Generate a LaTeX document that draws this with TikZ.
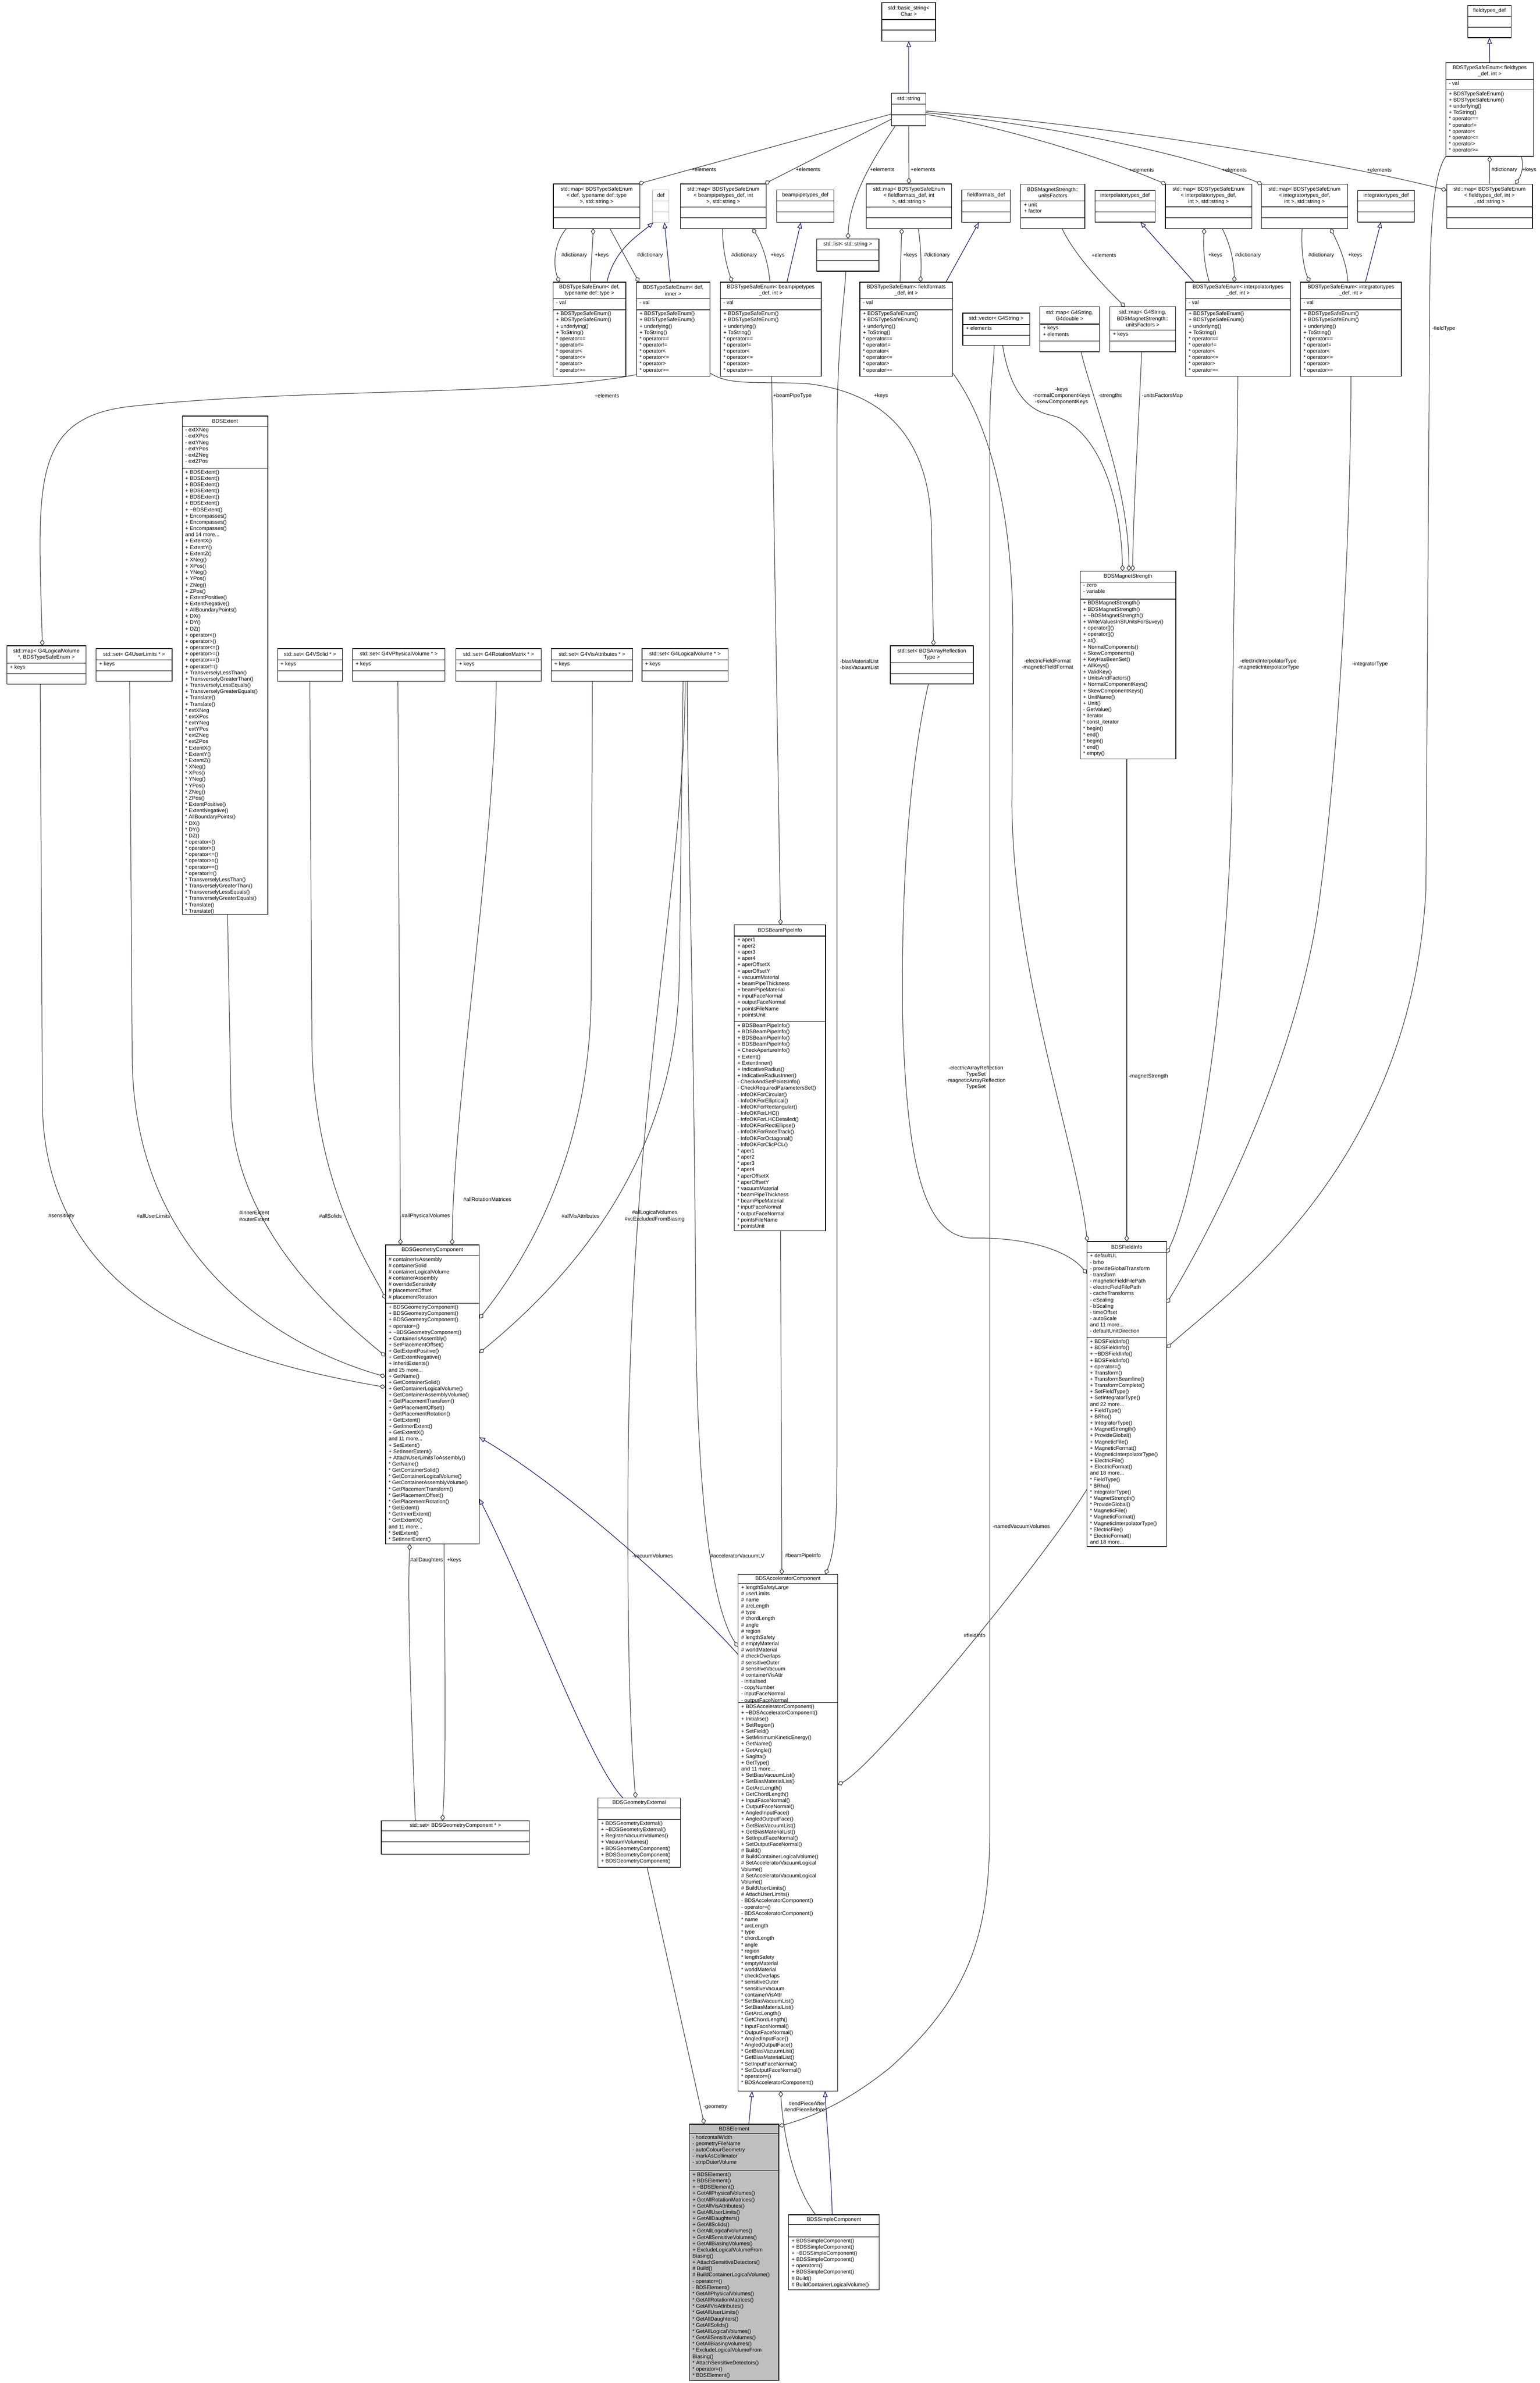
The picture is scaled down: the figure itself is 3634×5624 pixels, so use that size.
\documentclass[tikz,border=0pt]{standalone}
\usepackage{fontspec}
\setmainfont{Liberation Sans}
\usetikzlibrary{arrows.meta,calc}
\definecolor{assocc}{HTML}{404040}
\definecolor{inhc}{HTML}{191970}
\definecolor{elemfill}{HTML}{BFBFBF}
\definecolor{defgray}{HTML}{BFBFBF}
\newcommand{\clsfont}{\fontsize{12.5}{14.8}\selectfont}
\makeatletter
\def\cls@parse#1,#2,#3,#4,#5,#6\@nil{\def\clsxa{#1}\def\clsya{#2}\def\clsxb{#3}\def\clsyb{#4}\def\clsyh{#5}\def\clsyc{#6}}
\newcommand{\umlcls}[6][]{%
  \cls@parse#3\@nil
  \pgfmathsetmacro\clscw{\clsxb-\clsxa}%
  \pgfmathsetmacro\clsch{\clsyb-\clsya}%
  \pgfmathsetmacro\clscx{(\clsxa+\clsxb)/2}%
  \pgfmathsetmacro\clscy{(\clsya+\clsyb)/2}%
  \pgfmathsetmacro\clsty{(\clsya+\clsyh)/2}%
  \pgfmathsetmacro\clstx{\clsxa+7}%
  \pgfmathsetmacro\clsay{\clsyh+4}%
  \pgfmathsetmacro\clsmy{\clsyc+4}%
  \node[clsbox,minimum width=\clscw pt,minimum height=\clsch pt,#1] (#2) at (\clscx,\clscy) {};
  \draw[clsline,#1] (\clsxa,\clsyh) -- (\clsxb,\clsyh);
  \draw[clsline,#1] (\clsxa,\clsyc) -- (\clsxb,\clsyc);
  \node[clstitle] (#2-title) at (\clscx,\clsty) {#4};
  \node[clstext,anchor=north west] (#2-attr) at (\clstx,\clsay) {#5};
  \node[clstext,anchor=north west] (#2-ops) at (\clstx,\clsmy) {#6};
}
\makeatother
\newcommand{\tseops}{+ BDSTypeSafeEnum()\\+ BDSTypeSafeEnum()\\+ underlying()\\+ ToString()\\{}* operator==\\{}* operator!=\\{}* operator<\\{}* operator<=\\{}* operator>\\{}* operator>=}
\tikzset{
  clsbox/.style={draw=black,line width=1.5pt,inner sep=0pt,outer sep=0pt,fill=white},
  clsline/.style={draw=black,line width=1.5pt},
  clstitle/.style={font=\clsfont,align=center,inner sep=0pt},
  clstext/.style={font=\clsfont,align=left,inner sep=0pt},
  assoc/.style={draw=assocc,line width=1.4pt,{Diamond[open,length=15pt,width=11pt,line width=1.4pt]}-},
  inh/.style={draw=inhc,line width=1.4pt,-{Triangle[open,length=14pt,width=11pt,line width=1.4pt]}},
  lbl/.style={font=\clsfont,align=center,inner sep=0pt}
}
\begin{document}
\begin{tikzpicture}[x=1pt,y=-1pt]
\fill[white] (0,0) rectangle (3634,5624);
\useasboundingbox (0,0) rectangle (3634,5624);
% ---------- classes ----------
\umlcls{bstr}{2081,6,2208,97,46,71}{std::basic\_string<\\Char >}{}{}
\umlcls{str}{2104,220,2185,297,246,271}{std::string}{}{}
\umlcls{mapdef}{1306,434,1510,539,489,514}{std::map< BDSTypeSafeEnum\\< def, typename def::type\\ >, std::string >}{}{}
\umlcls[draw=defgray]{def}{1540,448,1579,525,474,500}{def}{}{}
\umlcls{mapbp}{1606,434,1808,539,489,514}{std::map< BDSTypeSafeEnum\\< beampipetypes\_def, int\\ >, std::string >}{}{}
\umlcls{bpdef}{1833,448,1968,525,474,500}{beampipetypes\_def}{}{}
\umlcls{lst}{1927,564,2074,640,590,615}{std::list< std::string >}{}{}
\umlcls{mapff}{2044,434,2246,539,489,514}{std::map< BDSTypeSafeEnum\\< fieldformats\_def, int\\ >, std::string >}{}{}
\umlcls{ffdef}{2270,448,2384,525,474,500}{fieldformats\_def}{}{}
\umlcls{uf}{2409,435,2560,539,474,514}{BDSMagnetStrength::\\unitsFactors}{+ unit\\+ factor}{}
\umlcls{ipdef}{2584,449,2726,524,474,500}{interpolatortypes\_def}{}{}
\umlcls{mapip}{2750,435,2954,539,488,514}{std::map< BDSTypeSafeEnum\\< interpolatortypes\_def,\\ int >, std::string >}{}{}
\umlcls{mapig}{2977,435,3180,539,488,514}{std::map< BDSTypeSafeEnum\\< integratortypes\_def,\\ int >, std::string >}{}{}
\umlcls{igdef}{3204,449,3338,524,474,500}{integratortypes\_def}{}{}
\umlcls{mapft}{3414,435,3616,539,488,514}{std::map< BDSTypeSafeEnum\\< fieldtypes\_def, int >\\, std::string >}{}{}
\umlcls{ftdef}{3464,13,3566,89,39,64}{fieldtypes\_def}{}{}
\umlcls{teft}{3412,148,3619,369,187,212}{BDSTypeSafeEnum< fieldtypes\\\_def, int >}{- val}{\tseops}
\umlcls{tedt}{1305,666,1477,888,705,731}{BDSTypeSafeEnum< def,\\typename def::type >}{- val}{\tseops}
\umlcls{tedi}{1502,666,1675,888,705,731}{BDSTypeSafeEnum< def,\\inner >}{- val}{\tseops}
\umlcls{tebp}{1700,666,1938,888,705,731}{BDSTypeSafeEnum< beampipetypes\\\_def, int >}{- val}{\tseops}
\umlcls{teff}{2029,666,2248,888,705,731}{BDSTypeSafeEnum< fieldformats\\\_def, int >}{- val}{\tseops}
\umlcls{vec}{2272,739,2430,815,766,791}{std::vector< G4String >}{+ elements}{}
\umlcls{mapgd}{2454,724,2594,830,765,805}{std::map< G4String,\\G4double >}{+ keys\\+ elements}{}
\umlcls{mapguf}{2619,724,2774,830,779,805}{std::map< G4String,\\BDSMagnetStrength::\\unitsFactors >}{+ keys}{}
\umlcls{teip}{2798,666,3045,888,705,731}{BDSTypeSafeEnum< interpolatortypes\\\_def, int >}{- val}{\tseops}
\umlcls{teig}{3069,666,3307,888,705,731}{BDSTypeSafeEnum< integratortypes\\\_def, int >}{- val}{\tseops}
\umlcls{maplv}{16,1524,203,1615,1565,1590}{std::map< G4LogicalVolume\\ *, BDSTypeSafeEnum >}{+ keys}{}
\umlcls{setul}{227,1531,406,1608,1557,1583}{std::set< G4UserLimits * >}{+ keys}{}
\umlcls{ext}{430,982,632,2158,1006,1105}{BDSExtent}{- extXNeg\\- extXPos\\- extYNeg\\- extYPos\\- extZNeg\\- extZPos}{+ BDSExtent()\\+ BDSExtent()\\+ BDSExtent()\\+ BDSExtent()\\+ BDSExtent()\\+ BDSExtent()\\+ \textasciitilde BDSExtent()\\+ Encompasses()\\+ Encompasses()\\+ Encompasses()\\and 14 more...\\+ ExtentX()\\+ ExtentY()\\+ ExtentZ()\\+ XNeg()\\+ XPos()\\+ YNeg()\\+ YPos()\\+ ZNeg()\\+ ZPos()\\+ ExtentPositive()\\+ ExtentNegative()\\+ AllBoundaryPoints()\\+ DX()\\+ DY()\\+ DZ()\\+ operator<()\\+ operator>()\\+ operator<=()\\+ operator>=()\\+ operator==()\\+ operator!=()\\+ TransverselyLessThan()\\+ TransverselyGreaterThan()\\+ TransverselyLessEquals()\\+ TransverselyGreaterEquals()\\+ Translate()\\+ Translate()\\{}* extXNeg\\{}* extXPos\\{}* extYNeg\\{}* extYPos\\{}* extZNeg\\{}* extZPos\\{}* ExtentX()\\{}* ExtentY()\\{}* ExtentZ()\\{}* XNeg()\\{}* XPos()\\{}* YNeg()\\{}* YPos()\\{}* ZNeg()\\{}* ZPos()\\{}* ExtentPositive()\\{}* ExtentNegative()\\{}* AllBoundaryPoints()\\{}* DX()\\{}* DY()\\{}* DZ()\\{}* operator<()\\{}* operator>()\\{}* operator<=()\\{}* operator>=()\\{}* operator==()\\{}* operator!=()\\{}* TransverselyLessThan()\\{}* TransverselyGreaterThan()\\{}* TransverselyLessEquals()\\{}* TransverselyGreaterEquals()\\{}* Translate()\\{}* Translate()}
\umlcls{setso}{655,1531,808,1608,1557,1583}{std::set< G4VSolid * >}{+ keys}{}
\umlcls{setpv}{832,1531,1050,1608,1557,1583}{std::set< G4VPhysicalVolume * >}{+ keys}{}
\umlcls{setrm}{1076,1531,1277,1608,1557,1583}{std::set< G4RotationMatrix * >}{+ keys}{}
\umlcls{setva}{1301,1531,1493,1608,1557,1583}{std::set< G4VisAttributes * >}{+ keys}{}
\umlcls{setlv}{1515,1531,1718,1608,1557,1583}{std::set< G4LogicalVolume * >}{+ keys}{}
\umlcls{setar}{2101,1524,2297,1614,1564,1590}{std::set< BDSArrayReflection\\Type >}{}{}
\umlcls{ms}{2549,1348,2775,1791,1374,1414}{BDSMagnetStrength}{- zero\\- variable}{+ BDSMagnetStrength()\\+ BDSMagnetStrength()\\+ \textasciitilde BDSMagnetStrength()\\+ WriteValuesInSIUnitsForSuvey()\\+ operator[]()\\+ operator[]()\\+ at()\\+ NormalComponents()\\+ SkewComponents()\\+ KeyHasBeenSet()\\+ AllKeys()\\+ ValidKey()\\+ UnitsAndFactors()\\+ NormalComponentKeys()\\+ SkewComponentKeys()\\+ UnitName()\\+ Unit()\\- GetValue()\\{}* iterator\\{}* const\_iterator\\{}* begin()\\{}* end()\\{}* begin()\\{}* end()\\{}* empty()}
\umlcls{bpi}{1733,2183,1948,2905,2209,2411}{BDSBeamPipeInfo}{+ aper1\\+ aper2\\+ aper3\\+ aper4\\+ aperOffsetX\\+ aperOffsetY\\+ vacuumMaterial\\+ beamPipeThickness\\+ beamPipeMaterial\\+ inputFaceNormal\\+ outputFaceNormal\\+ pointsFileName\\+ pointsUnit}{+ BDSBeamPipeInfo()\\+ BDSBeamPipeInfo()\\+ BDSBeamPipeInfo()\\+ BDSBeamPipeInfo()\\+ CheckApertureInfo()\\+ Extent()\\+ ExtentInner()\\+ IndicativeRadius()\\+ IndicativeRadiusInner()\\- CheckAndSetPointsInfo()\\- CheckRequiredParametersSet()\\- InfoOKForCircular()\\- InfoOKForElliptical()\\- InfoOKForRectangular()\\- InfoOKForLHC()\\- InfoOKForLHCDetailed()\\- InfoOKForRectEllipse()\\- InfoOKForRaceTrack()\\- InfoOKForOctagonal()\\- InfoOKForClicPCL()\\{}* aper1\\{}* aper2\\{}* aper3\\{}* aper4\\{}* aperOffsetX\\{}* aperOffsetY\\{}* vacuumMaterial\\{}* beamPipeThickness\\{}* beamPipeMaterial\\{}* inputFaceNormal\\{}* outputFaceNormal\\{}* pointsFileName\\{}* pointsUnit}
\umlcls{fi}{2565,2930,2753,3650,2955,3157}{BDSFieldInfo}{+ defaultUL\\- brho\\- provideGlobalTransform\\- transform\\- magneticFieldFilePath\\- electricFieldFilePath\\- cacheTransforms\\- eScaling\\- bScaling\\- timeOffset\\- autoScale\\and 11 more...\\- defaultUnitDirection}{+ BDSFieldInfo()\\+ BDSFieldInfo()\\+ \textasciitilde BDSFieldInfo()\\+ BDSFieldInfo()\\+ operator=()\\+ Transform()\\+ TransformBeamline()\\+ TransformComplete()\\+ SetFieldType()\\+ SetIntegratorType()\\and 22 more...\\+ FieldType()\\+ BRho()\\+ IntegratorType()\\+ MagnetStrength()\\+ ProvideGlobal()\\+ MagneticFile()\\+ MagneticFormat()\\+ MagneticInterpolatorType()\\+ ElectricFile()\\+ ElectricFormat()\\and 18 more...\\{}* FieldType()\\{}* BRho()\\{}* IntegratorType()\\{}* MagnetStrength()\\{}* ProvideGlobal()\\{}* MagneticFile()\\{}* MagneticFormat()\\{}* MagneticInterpolatorType()\\{}* ElectricFile()\\{}* ElectricFormat()\\and 18 more...}
\umlcls{gc}{910,2938,1131,3644,2963,3076}{BDSGeometryComponent}{\# containerIsAssembly\\\# containerSolid\\\# containerLogicalVolume\\\# containerAssembly\\\# overrideSensitivity\\\# placementOffset\\\# placementRotation}{+ BDSGeometryComponent()\\+ BDSGeometryComponent()\\+ BDSGeometryComponent()\\+ operator=()\\+ \textasciitilde BDSGeometryComponent()\\+ ContainerIsAssembly()\\+ SetPlacementOffset()\\+ GetExtentPositive()\\+ GetExtentNegative()\\+ InheritExtents()\\and 25 more...\\+ GetName()\\+ GetContainerSolid()\\+ GetContainerLogicalVolume()\\+ GetContainerAssemblyVolume()\\+ GetPlacementTransform()\\+ GetPlacementOffset()\\+ GetPlacementRotation()\\+ GetExtent()\\+ GetInnerExtent()\\+ GetExtentX()\\and 11 more...\\+ SetExtent()\\+ SetInnerExtent()\\+ AttachUserLimitsToAssembly()\\{}* GetName()\\{}* GetContainerSolid()\\{}* GetContainerLogicalVolume()\\{}* GetContainerAssemblyVolume()\\{}* GetPlacementTransform()\\{}* GetPlacementOffset()\\{}* GetPlacementRotation()\\{}* GetExtent()\\{}* GetInnerExtent()\\{}* GetExtentX()\\and 11 more...\\{}* SetExtent()\\{}* SetInnerExtent()}
\umlcls{setgc}{900,4297,1249,4376,4321,4347}{std::set< BDSGeometryComponent * >}{}{}
\umlcls{gext}{1411,4243,1606,4407,4267,4294}{BDSGeometryExternal}{}{+ BDSGeometryExternal()\\+ \textasciitilde BDSGeometryExternal()\\+ RegisterVacuumVolumes()\\+ VacuumVolumes()\\+ BDSGeometryComponent()\\+ BDSGeometryComponent()\\+ BDSGeometryComponent()}
\umlcls{acc}{1742,3716,1977,4935,3737,4018}{BDSAcceleratorComponent}{+ lengthSafetyLarge\\\# userLimits\\\# name\\\# arcLength\\\# type\\\# chordLength\\\# angle\\\# region\\\# lengthSafety\\\# emptyMaterial\\\# worldMaterial\\\# checkOverlaps\\\# sensitiveOuter\\\# sensitiveVacuum\\\# containerVisAttr\\- initialised\\- copyNumber\\- inputFaceNormal\\- outputFaceNormal}{+ BDSAcceleratorComponent()\\+ \textasciitilde BDSAcceleratorComponent()\\+ Initialise()\\+ SetRegion()\\+ SetField()\\+ SetMinimumKineticEnergy()\\+ GetName()\\+ GetAngle()\\+ Sagitta()\\+ GetType()\\and 11 more...\\+ SetBiasVacuumList()\\+ SetBiasMaterialList()\\+ GetArcLength()\\+ GetChordLength()\\+ InputFaceNormal()\\+ OutputFaceNormal()\\+ AngledInputFace()\\+ AngledOutputFace()\\+ GetBiasVacuumList()\\+ GetBiasMaterialList()\\+ SetInputFaceNormal()\\+ SetOutputFaceNormal()\\\# Build()\\\# BuildContainerLogicalVolume()\\\# SetAcceleratorVacuumLogical\\Volume()\\\# SetAcceleratorVacuumLogical\\Volume()\\\# BuildUserLimits()\\\# AttachUserLimits()\\- BDSAcceleratorComponent()\\- operator=()\\- BDSAcceleratorComponent()\\{}* name\\{}* arcLength\\{}* type\\{}* chordLength\\{}* angle\\{}* region\\{}* lengthSafety\\{}* emptyMaterial\\{}* worldMaterial\\{}* checkOverlaps\\{}* sensitiveOuter\\{}* sensitiveVacuum\\{}* containerVisAttr\\{}* SetBiasVacuumList()\\{}* SetBiasMaterialList()\\{}* GetArcLength()\\{}* GetChordLength()\\{}* InputFaceNormal()\\{}* OutputFaceNormal()\\{}* AngledInputFace()\\{}* AngledOutputFace()\\{}* GetBiasVacuumList()\\{}* GetBiasMaterialList()\\{}* SetInputFaceNormal()\\{}* SetOutputFaceNormal()\\{}* operator=()\\{}* BDSAcceleratorComponent()}
\umlcls[fill=elemfill]{elem}{1627,5013,1838,5618,5035,5123}{BDSElement}{- horizontalWidth\\- geometryFileName\\- autoColourGeometry\\- markAsCollimator\\- stripOuterVolume}{+ BDSElement()\\+ BDSElement()\\+ \textasciitilde BDSElement()\\+ GetAllPhysicalVolumes()\\+ GetAllRotationMatrices()\\+ GetAllVisAttributes()\\+ GetAllUserLimits()\\+ GetAllDaughters()\\+ GetAllSolids()\\+ GetAllLogicalVolumes()\\+ GetAllSensitiveVolumes()\\+ GetAllBiasingVolumes()\\+ ExcludeLogicalVolumeFrom\\Biasing()\\+ AttachSensitiveDetectors()\\\# Build()\\\# BuildContainerLogicalVolume()\\- operator=()\\- BDSElement()\\{}* GetAllPhysicalVolumes()\\{}* GetAllRotationMatrices()\\{}* GetAllVisAttributes()\\{}* GetAllUserLimits()\\{}* GetAllDaughters()\\{}* GetAllSolids()\\{}* GetAllLogicalVolumes()\\{}* GetAllSensitiveVolumes()\\{}* GetAllBiasingVolumes()\\{}* ExcludeLogicalVolumeFrom\\Biasing()\\{}* AttachSensitiveDetectors()\\{}* operator=()\\{}* BDSElement()}
\umlcls{simp}{1861,5227,2075,5404,5250,5279}{BDSSimpleComponent}{}{+ BDSSimpleComponent()\\+ BDSSimpleComponent()\\+ \textasciitilde BDSSimpleComponent()\\+ BDSSimpleComponent()\\+ operator=()\\+ BDSSimpleComponent()\\\# Build()\\\# BuildContainerLogicalVolume()}
% ---------- connectors (top) ----------
\draw[inh] (str.north) -- (bstr.south);
\draw[assoc] ($(mapdef.north east)+(-4,0)$) -- ($(str.north west)+(0,49)$);
\draw[assoc] ($(mapbp.north east)+(-4,0)$) -- ($(str.north west)+(0,61)$);
\draw[assoc] ($(lst.north west)+(74,0)$) .. controls (2005,460) and (2070,360) .. ($(str.south west)+(9,0)$);
\draw[assoc] (mapff.north) -- (str.south);
\draw[assoc] ($(mapip.north west)+(2,0)$) .. controls (2600,370) and (2350,295) .. ($(str.north east)+(0,50)$);
\draw[assoc] ($(mapig.north west)+(2,0)$) .. controls (2800,360) and (2450,292) .. ($(str.north east)+(0,46)$);
\draw[assoc] ($(mapft.north west)+(0,14)$) .. controls (3150,380) and (2600,295) .. ($(str.north east)+(0,42)$);
\draw[inh] (teft.north) -- (ftdef.south);
\draw[assoc] (teft.south) -- (mapft.north);
\draw[assoc] ($(mapft.north west)+(162,0)$) .. controls (3592,410) and (3596,390) .. ($(teft.south west)+(178,0)$);
\draw[inh] ($(tedt.north west)+(127,0)$) .. controls (1450,590) and (1500,560) .. ($(def.south west)+(2,0)$);
\draw[inh] ($(tedi.north west)+(80,0)$) -- ($(def.south west)+(28,0)$);
\draw[assoc] ($(tedt.north west)+(15,0)$) .. controls (1303,620) and (1310,570) .. ($(mapdef.south west)+(31,0)$);
\draw[assoc] ($(mapdef.south west)+(94,0)$) .. controls (1398,590) and (1394,630) .. ($(tedt.north west)+(88,0)$);
\draw[assoc] ($(tedi.north west)+(6,0)$) -- ($(mapdef.south west)+(133,0)$);
\draw[assoc] ($(tebp.north west)+(28,0)$) .. controls (1712,620) and (1705,580) .. ($(mapbp.south west)+(99,0)$);
\draw[assoc] ($(mapbp.south west)+(170,0)$) .. controls (1795,570) and (1812,610) .. ($(tebp.north west)+(117,0)$);
\draw[inh] ($(tebp.north west)+(157,0)$) -- ($(bpdef.south west)+(57,0)$);
\draw[assoc] ($(mapff.south west)+(84,0)$) -- ($(teff.north west)+(95,0)$);
\draw[assoc] ($(teff.north west)+(143,0)$) .. controls (2175,620) and (2172,570) .. ($(mapff.south west)+(123,0)$);
\draw[inh] ($(teff.north west)+(203,0)$) -- ($(ffdef.south west)+(40,0)$);
\draw[inh] ($(teip.north west)+(20,0)$) -- ($(ipdef.south west)+(107,0)$);
\draw[assoc] ($(mapip.south west)+(92,0)$) .. controls (2838,600) and (2846,640) .. ($(teip.north west)+(56,0)$);
\draw[assoc] ($(teip.north west)+(115,0)$) .. controls (2912,610) and (2900,570) .. ($(mapip.south west)+(134,0)$);
\draw[assoc] ($(teig.north west)+(22,0)$) .. controls (3075,630) and (3070,580) .. ($(mapig.south west)+(96,0)$);
\draw[assoc] ($(mapig.south west)+(163,0)$) .. controls (3160,580) and (3178,620) .. ($(teig.north west)+(112,0)$);
\draw[inh] ($(teig.north west)+(153,0)$) -- ($(igdef.south west)+(55,0)$);
\draw[assoc] ($(mapguf.north west)+(36,0)$) .. controls (2620,690) and (2540,610) .. ($(uf.south west)+(97,0)$);
\draw[assoc] ($(ms.north west)+(100,0)$) .. controls (2645,1150) and (2580,1000) .. (2480,980) .. controls (2410,965) and (2380,900) .. ($(vec.south west)+(94,0)$);
\draw[assoc] ($(ms.north west)+(115,0)$) .. controls (2664,1150) and (2580,950) .. ($(mapgd.south west)+(97,0)$);
\draw[assoc] ($(ms.north west)+(124,0)$) .. controls (2674,1200) and (2690,950) .. ($(mapguf.south west)+(75,0)$);
\draw[assoc] ($(bpi.north west)+(109,0)$) -- ($(tebp.south west)+(121,0)$);
\draw[assoc] ($(maplv.north west)+(84,0)$) .. controls (90,1150) and (70,990) .. (300,960) .. controls (700,915) and (1250,935) .. ($(tedi.south west)+(0,-4)$);
\draw[assoc] ($(setar.north west)+(102,0)$) -- (2198,1250) .. controls (2195,1000) and (2050,920) .. (1900,905) .. controls (1780,900) and (1720,910) .. ($(tedi.south east)+(0,-8)$);
% ---------- connectors (middle) ----------
\draw[assoc] ($(acc.north west)+(206,0)$) .. controls (1970,3660) and (1975,3600) .. (1975,3450) -- (1975,1050) .. controls (1975,800) and (1994,700) .. ($(lst.south west)+(69,0)$);
\draw[assoc] ($(fi.north west)+(0,76)$) .. controls (2520,2950) and (2420,2920) .. (2300,2922) .. controls (2180,2925) and (2140,2750) .. (2130,2400) .. controls (2125,2000) and (2160,1750) .. ($(setar.south west)+(90,0)$);
\draw[assoc] ($(fi.north west)+(1,0)$) .. controls (2540,2700) and (2392,2300) .. (2388,1900) -- (2390,1500) .. controls (2392,1200) and (2330,990) .. ($(teff.south east)+(0,-8)$);
\draw[assoc] ($(fi.north west)+(94,0)$) -- ($(ms.south west)+(110,0)$);
\draw[assoc] ($(fi.north east)+(0,28)$) .. controls (2830,2800) and (2905,2300) .. (2908,1800) .. controls (2911,1300) and (2921,1100) .. ($(teip.south west)+(123,0)$);
\draw[assoc] ($(fi.north east)+(0,146)$) .. controls (2830,2950) and (3050,2550) .. (3110,2150) .. controls (3165,1750) and (3188,1200) .. ($(teig.south west)+(119,0)$);
\draw[assoc] ($(fi.north east)+(0,251)$) .. controls (2900,3050) and (3330,2750) .. (3365,2100) -- (3374,700) .. controls (3375,480) and (3390,400) .. (teft.south west);
\draw[assoc] ($(gc.north west)+(0,128)$) .. controls (880,3000) and (738,2800) .. (736,2450) -- ($(setso.south west)+(76,0)$);
\draw[assoc] ($(gc.north west)+(35,0)$) -- ($(setpv.south west)+(107,0)$);
\draw[assoc] ($(gc.north west)+(157,0)$) .. controls (1070,2600) and (1168,2000) .. ($(setrm.south west)+(95,0)$);
\draw[assoc] ($(gc.north east)+(0,174)$) .. controls (1220,3000) and (1392,2750) .. (1395,2350) -- ($(setva.south west)+(97,0)$);
\draw[assoc] ($(gc.north east)+(0,255)$) .. controls (1330,3030) and (1598,2750) .. (1603,2300) -- ($(setlv.south west)+(97,0)$);
\draw[assoc] ($(gc.north west)+(0,263)$) .. controls (800,3110) and (548,2900) .. (545,2600) -- ($(ext.south west)+(107,0)$);
\draw[assoc] ($(gc.north west)+(0,311)$) .. controls (700,3190) and (318,3000) .. (312,2500) -- ($(setul.south west)+(79,0)$);
\draw[assoc] ($(gc.north west)+(0,336)$) .. controls (600,3220) and (102,3100) .. (100,2600) -- ($(maplv.south west)+(79,0)$);
\draw[assoc] ($(gext.north west)+(89,0)$) .. controls (1488,4100) and (1480,3900) .. (1482,3500) .. controls (1485,2600) and (1615,2100) .. ($(setlv.south west)+(102,0)$);
\draw[assoc] ($(acc.north west)+(0,171)$) .. controls (1690,3810) and (1645,3600) .. (1642,3100) .. controls (1638,2400) and (1622,1900) .. ($(setlv.south west)+(107,0)$);
\draw[assoc] ($(acc.north west)+(103,0)$) -- ($(bpi.south west)+(109,0)$);
\draw[inh] ($(acc.north west)+(0,189)$) .. controls (1650,3800) and (1350,3520) .. ($(gc.north east)+(0,454)$);
\draw[inh] ($(gext.north west)+(59,0)$) .. controls (1390,4160) and (1250,3770) .. ($(gc.north east)+(0,599)$);
\draw[assoc] ($(acc.north east)+(0,496)$) .. controls (2060,4170) and (2450,3700) .. ($(fi.north west)+(0,585)$);
\draw[assoc] ($(elem.north east)+(0,5)$) .. controls (1920,4995) and (2000,4960) .. (2100,4880) .. controls (2300,4700) and (2336,4550) .. (2336,4300) -- (2336,1000) .. controls (2336,900) and (2346,860) .. ($(vec.south west)+(74,0)$);
% ---------- connectors (bottom) ----------
\draw[inh] ($(elem.north west)+(140,0)$) -- ($(acc.south west)+(33,0)$);
\draw[inh] ($(simp.north west)+(103,0)$) .. controls (1960,5100) and (1950,5000) .. ($(acc.south west)+(205,0)$);
\draw[assoc] ($(acc.south west)+(100,0)$) .. controls (1850,5060) and (1880,5170) .. ($(simp.north west)+(64,0)$);
\draw[assoc] ($(elem.north west)+(35,0)$) -- ($(gext.south west)+(116,0)$);
\draw[assoc] ($(gc.south west)+(57,0)$) .. controls (960,3800) and (975,4150) .. ($(setgc.north west)+(80,0)$);
\draw[assoc] ($(setgc.north west)+(144,0)$) .. controls (1055,4150) and (1048,3800) .. ($(gc.south west)+(138,0)$);
% ---------- labels ----------
\node[lbl] (l01) at (1661,400) {+elements};
\node[lbl] (l02) at (1907,400) {+elements};
\node[lbl] (l03) at (2082,400) {+elements};
\node[lbl] (l04) at (2178,400) {+elements};
\node[lbl] (l05) at (2694,401) {+elements};
\node[lbl] (l06) at (2913,401) {+elements};
\node[lbl] (l07) at (3255,401) {+elements};
\node[lbl] (l08) at (3550,401) {\#dictionary};
\node[lbl] (l09) at (3609,401) {+keys};
\node[lbl] (l10) at (1355,602) {\#dictionary};
\node[lbl] (l11) at (1420,602) {+keys};
\node[lbl] (l12) at (1534,602) {\#dictionary};
\node[lbl] (l13) at (1756,602) {\#dictionary};
\node[lbl] (l14) at (1835,602) {+keys};
\node[lbl] (l15) at (2148,602) {+keys};
\node[lbl] (l16) at (2211,602) {\#dictionary};
\node[lbl] (l17) at (2605,602) {+elements};
\node[lbl] (l18) at (2868,602) {+keys};
\node[lbl] (l19) at (2945,602) {\#dictionary};
\node[lbl] (l20) at (3118,602) {\#dictionary};
\node[lbl] (l21) at (3198,602) {+keys};
\node[lbl] (l22) at (3407,776) {-fieldType};
\node[lbl] (l23) at (1432,934) {+elements};
\node[lbl] (l24) at (1870,934) {+beamPipeType};
\node[lbl] (l25) at (2079,934) {+keys};
\node[lbl] (l26) at (2505,934) {-keys\\-normalComponentKeys\\-skewComponentKeys};
\node[lbl] (l27) at (2620,934) {-strengths};
\node[lbl] (l28) at (2743,934) {-unitsFactorsMap};
\node[lbl] (l29) at (2028,1568) {-biasMaterialList\\-biasVacuumList};
\node[lbl] (l30) at (2472,1568) {-electricFieldFormat\\-magneticFieldFormat};
\node[lbl] (l31) at (2993,1568) {-electricInterpolatorType\\-magneticInterpolatorType};
\node[lbl] (l32) at (3233,1568) {-integratorType};
\node[lbl] (l33) at (2303,2543) {-electricArrayReflection\\TypeSet\\-magneticArrayReflection\\TypeSet};
\node[lbl] (l34) at (2710,2541) {-magnetStrength};
\node[lbl] (l35) at (145,2870) {\#sensitivity};
\node[lbl] (l36) at (362,2870) {\#allUserLimits};
\node[lbl] (l37) at (600,2870) {\#innerExtent\\\#outerExtent};
\node[lbl] (l38) at (780,2870) {\#allSolids};
\node[lbl] (l39) at (1005,2870) {\#allPhysicalVolumes};
\node[lbl] (l40) at (1150,2830) {\#allRotationMatrices};
\node[lbl] (l41) at (1370,2870) {\#allVisAttributes};
\node[lbl] (l42) at (1545,2870) {\#allLogicalVolumes\\\#vcExcludedFromBiasing};
\node[lbl] (l43) at (1540,3672) {-vacuumVolumes};
\node[lbl] (l44) at (1740,3672) {\#acceleratorVacuumLV};
\node[lbl] (l45) at (1895,3672) {\#beamPipeInfo};
\node[lbl] (l46) at (2410,3602) {-namedVacuumVolumes};
\node[lbl] (l47) at (2300,3860) {\#fieldInfo};
\node[lbl,align=right,anchor=east] (l48) at (1947,4972) {\#endPieceAfter\\\#endPieceBefore};
\node[lbl,anchor=west] (l49) at (1660,4973) {-geometry};
\node[lbl] (l50) at (1007,3682) {\#allDaughters};
\node[lbl] (l51) at (1072,3682) {+keys};
\end{tikzpicture}
\end{document}
